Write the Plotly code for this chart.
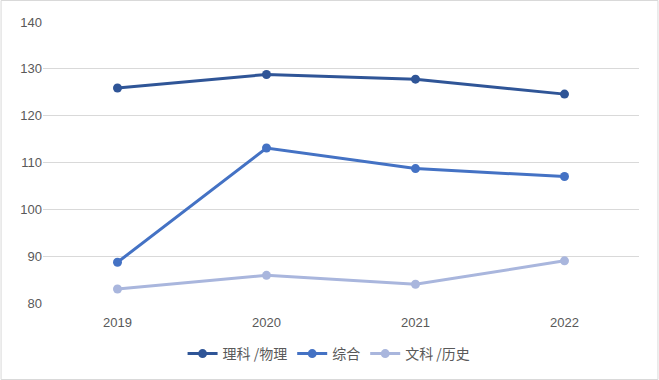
import plotly.graph_objects as go

years = ["2019", "2020", "2021", "2022"]
series_names = ["理科 /物理", "综合", "文科 /历史"]
like_physics = [125.9, 128.8, 127.8, 124.6]
comprehensive = [88.7, 113.1, 108.7, 107.0]
like_history = [83.0, 85.9, 84.0, 89.0]
y_ticks = [80, 90, 100, 110, 120, 130, 140]

colors = ["#2F5597", "#4472C4", "#A9B6DD"]
values = [like_physics, comprehensive, like_history]

W, H = 659, 380
L, R, T, B = 42.5, 19.5, 22, 77

fig = go.Figure()
for name, vals, c in zip(series_names, values, colors):
    fig.add_trace(go.Scatter(
        x=years, y=vals, name=name, mode="lines+markers",
        line=dict(color=c, width=3),
        marker=dict(color=c, size=9),
    ))

pw = W - L - R
ph = H - T - B
fig.add_shape(type="rect", xref="paper", yref="paper",
              x0=(0.5 - L) / pw, x1=(W - 0.5 - L) / pw,
              y0=(H - T - B - (H - 0.5 - T)) / ph, y1=(H - T - B - (0.5 - T)) / ph,
              line=dict(color="#D9D9D9", width=1), layer="below")

fig.update_layout(
    width=W, height=H,
    margin=dict(l=L, r=R, t=T, b=B, autoexpand=False),
    paper_bgcolor="white", plot_bgcolor="white",
    font=dict(family="Noto Sans CJK SC, Liberation Sans, Arial", color="#595959", size=13),
    showlegend=True,
    legend=dict(orientation="h", x=0.48, xanchor="center", y=-(354 - 303) / ph, yanchor="middle",
                font=dict(size=14, color="#595959"), itemwidth=30, tracegroupgap=0),
    xaxis=dict(type="category", showgrid=False, zeroline=False, showline=False,
               ticks="", ticklabelstandoff=10,
               tickfont=dict(size=13, color="#595959", family="Liberation Sans, Arial"),
               range=[-0.5, 3.5]),
    yaxis=dict(range=[80, 140], tickvals=y_ticks, showgrid=True, gridcolor="#D9D9D9",
               gridwidth=1, zeroline=False, showline=False, ticks="",
               tickfont=dict(size=13, color="#595959", family="Liberation Sans, Arial")),
)

fig.write_html("out.html")
